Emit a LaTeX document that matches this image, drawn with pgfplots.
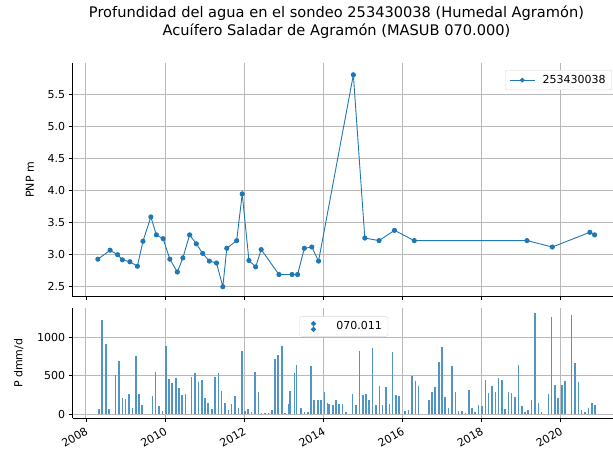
\documentclass[border=0pt]{standalone}
\usepackage{fontspec}
\setmainfont{DejaVu Sans}
\usepackage{pgfplots}
\pgfplotsset{compat=1.18}
\definecolor{mplblue}{HTML}{1F77B4}
\definecolor{gridgray}{HTML}{B8B8B8}

\pgfplotsset{
  myax/.style={
    scale only axis,
    width=540.5pt,
    xmin=2007.659, xmax=2021.325,
    axis lines=left,
    axis line style={-, line width=0.9pt, black},
    tick align=outside,
    major tick length=3.8pt,
    tick style={black, line width=0.9pt},
    grid=major,
    major grid style={gridgray, line width=1pt},
    xtick={2008,2010,2012,2014,2016,2018,2020},
    clip=true,
    /pgf/number format/assume math mode=true,
    tick label style={font=\fontsize{11}{13}\selectfont},
    label style={font=\fontsize{11}{13}\selectfont},
    ylabel shift=7pt,
    legend style={font=\fontsize{11}{13}\selectfont, draw=black!15, rounded corners=2pt, fill=white, inner xsep=4pt, inner ysep=3pt},
    legend cell align=left,
  }
}

\begin{document}
\begin{tikzpicture}
\useasboundingbox (0pt,0pt) rectangle (613pt,457pt);
\node[align=center, font=\fontsize{14.6}{18}\selectfont] at (336.5pt,435pt) {Profundidad del agua en el sondeo 253430038 (Humedal Agramón)\\Acuífero Saladar de Agramón (MASUB 070.000)};

\begin{axis}[myax,
  at={(72.5pt,160.3pt)}, anchor=south west,
  height=233.4pt,
  ymin=2.344, ymax=5.99,
  ytick={2.5,3.0,3.5,4.0,4.5,5.0,5.5},
  yticklabel style={/pgf/number format/.cd, fixed, fixed zerofill, precision=1},
  xticklabels={},
  ylabel={PNP m},
  legend style={at={(0.998,0.971)}, anchor=north east},
  legend image code/.code={
    \path[draw=none, fill=none] (0pt,0pt) -- (31pt,0pt);
    \draw[mplblue, line width=0.9pt] (0pt,0pt) -- (25pt,0pt);
    \fill[mplblue] (12.5pt,0pt) circle (1.9pt);
  },
]
\addplot[mplblue, line width=0.9pt, mark=*, mark size=2.1pt, mark options={fill=mplblue, draw=mplblue}] coordinates {
(2008.30,2.93) (2008.61,3.07) (2008.80,3.00) (2008.92,2.92) (2009.11,2.89)
(2009.30,2.82) (2009.44,3.21) (2009.64,3.59) (2009.78,3.31) (2009.95,3.25)
(2010.12,2.93) (2010.31,2.73) (2010.45,2.95) (2010.62,3.31) (2010.79,3.17)
(2010.95,3.02) (2011.12,2.90) (2011.30,2.87) (2011.46,2.50) (2011.56,3.10)
(2011.81,3.22) (2011.95,3.95) (2012.12,2.91) (2012.29,2.81) (2012.43,3.08)
(2012.88,2.69) (2013.21,2.69) (2013.35,2.69) (2013.52,3.10) (2013.71,3.12)
(2013.88,2.90) (2014.76,5.81) (2015.05,3.26) (2015.41,3.22) (2015.80,3.38)
(2016.30,3.22) (2019.15,3.22) (2019.79,3.12) (2020.74,3.35) (2020.86,3.31)
};
\addlegendentry{253430038}
\end{axis}

\begin{axis}[myax,
  at={(72.5pt,38.7pt)}, anchor=south west,
  height=110pt,
  ymin=-56, ymax=1383,
  ytick={0,500,1000},
  yticklabel style={/pgf/number format/.cd, 1000 sep={}},
  xticklabels={2008,2010,2012,2014,2016,2018,2020},
  xticklabel style={rotate=30, anchor=north east},
  ylabel={P dmm/d},
  legend style={at={(0.4196,0.926)}, anchor=north west},
  legend image code/.code={
    \path[draw=none, fill=none] (0pt,0pt) -- (31pt,0pt);
    \draw[mplblue, line width=1.4pt] (10pt,-3pt) -- (10pt,3pt);
    \fill[mplblue] (10pt,-2.8pt) circle (1.7pt);
    \fill[mplblue] (10pt,2.8pt) circle (1.7pt);
  },
]
\addplot[ycomb, mplblue!78, line width=1.5pt] coordinates {
(2008.33,70) (2008.41,1226) (2008.50,917) (2008.58,70) (2008.75,511)
(2008.83,697) (2008.92,216) (2009.00,198) (2009.09,260) (2009.17,84)
(2009.26,754) (2009.34,260) (2009.42,115) (2009.68,234) (2009.76,556)
(2009.85,101) (2009.93,44) (2010.02,895) (2010.10,454) (2010.18,410)
(2010.27,467) (2010.35,335) (2010.43,247) (2010.52,265) (2010.67,490)
(2010.76,538) (2010.84,415) (2010.93,450) (2011.01,216) (2011.09,141)
(2011.18,70) (2011.26,480) (2011.35,538) (2011.43,304) (2011.51,146)
(2011.60,57) (2011.68,128) (2011.77,234) (2011.85,84) (2011.94,829)
(2012.02,40) (2012.10,66) (2012.19,26) (2012.27,551) (2012.36,287)
(2012.44,18) (2012.53,18) (2012.61,18) (2012.70,57) (2012.78,714)
(2012.86,772) (2012.95,886) (2013.03,13) (2013.12,132) (2013.16,304)
(2013.27,538) (2013.32,640) (2013.44,84) (2013.52,26) (2013.61,26)
(2013.69,626) (2013.77,185) (2013.86,185) (2013.94,185) (2014.03,291)
(2014.11,146) (2014.15,132) (2014.24,115) (2014.32,185) (2014.40,128)
(2014.49,128) (2014.57,26) (2014.74,260) (2014.83,115) (2014.91,829)
(2015.00,243) (2015.08,260) (2015.16,185) (2015.25,860) (2015.33,115)
(2015.42,362) (2015.50,123) (2015.59,348) (2015.67,132) (2015.75,816)
(2015.84,247) (2015.92,238) (2016.07,35) (2016.16,53) (2016.24,494)
(2016.33,432) (2016.41,362) (2016.67,185) (2016.75,291) (2016.83,348)
(2016.92,679) (2017.00,873) (2017.08,229) (2017.17,84) (2017.25,626)
(2017.34,287) (2017.42,40) (2017.51,40) (2017.59,13) (2017.68,318)
(2017.76,84) (2017.84,26) (2017.93,115) (2018.01,106) (2018.10,450)
(2018.18,273) (2018.27,362) (2018.35,291) (2018.43,476) (2018.52,450)
(2018.60,70) (2018.68,291) (2018.76,275) (2018.85,229) (2018.93,639)
(2019.02,101) (2019.10,26) (2019.18,57) (2019.27,185) (2019.35,1323)
(2019.44,141) (2019.52,26) (2019.69,260) (2019.77,1270) (2019.86,375)
(2019.94,203) (2020.03,375) (2020.11,432) (2020.28,1297) (2020.36,670)
(2020.45,423) (2020.53,53) (2020.62,26) (2020.70,79) (2020.79,141)
(2020.87,115)
};
\addlegendentry{070.011}
\end{axis}
\end{tikzpicture}
\end{document}
